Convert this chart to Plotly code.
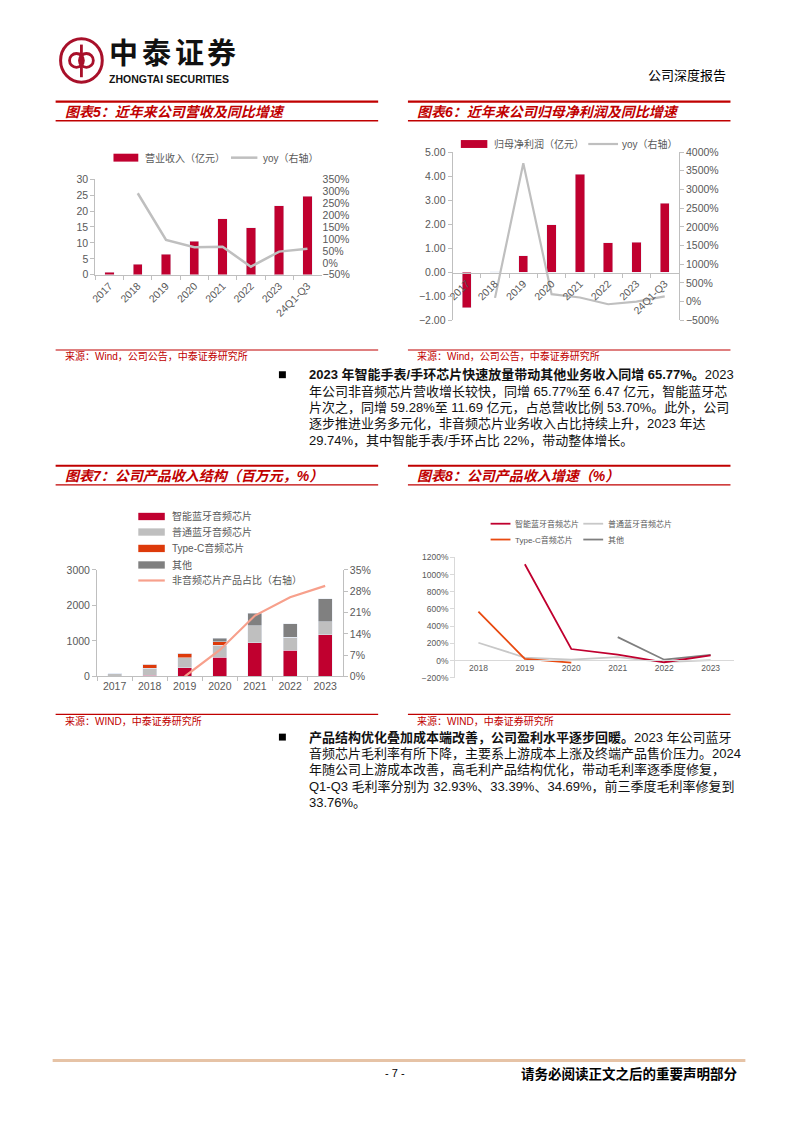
import plotly.graph_objects as go

# ---------------- data ----------------
years5 = ['2017', '2018', '2019', '2020', '2021', '2022', '2023', '24Q1-Q3']
revenue = [0.83, 3.3, 6.4, 10.55, 17.6, 14.8, 21.7, 24.7]
revenue_yoy = [None, 291, 96, 65, 67, -16, 47, 59]

profit = [-1.47, 0.02, 0.68, 1.98, 4.08, 1.23, 1.24, 2.88]
profit_yoy = [None, 100, 3700, 200, 110, -70, 1, 140]

years7 = ['2017', '2018', '2019', '2020', '2021', '2022', '2023']
smart_bt = [0, 28, 244, 544, 947, 741, 1169]
normal_bt = [75, 206, 281, 338, 479, 357, 370]
typec = [8, 104, 122, 94, 0, 0, 0]
others = [0, 0, 0, 93, 356, 390, 647]
nonaudio_share = [None, None, 0, 8.7, 20.0, 26.0, 29.74]

years8 = ['2018', '2019', '2020', '2021', '2022', '2023']
g_smart = [None, 1120, 134, 70, -20, 59.28]
g_normal = [207, 35, 10, 40, -18, 5]
g_typec = [570, 20, -25, None, None, None]
g_other = [None, None, None, 272, 10, 65.77]

logo_chars = ['中', '泰', '证', '券']

# ---------------- helpers ----------------
W, H = 794, 1123


def X(x):
    return x / W


def Y(y):
    return 1 - y / H


RED = '#C0002F'
TRED = '#C00000'
GTXT = '#595959'
AX = '#BFBFBF'
LOGO = '#A8102A'
CJK = 'Noto Sans CJK SC'
LAT = 'Liberation Sans, Noto Sans CJK SC'

shapes = []
annos = []


def hline(x0, x1, y, color, width):
    shapes.append(dict(type='line', xref='paper', yref='paper', x0=X(x0), x1=X(x1),
                       y0=Y(y), y1=Y(y), line=dict(color=color, width=width)))


def rect(x0, y0, x1, y1, color):
    shapes.append(dict(type='rect', xref='paper', yref='paper', x0=X(x0), x1=X(x1),
                       y0=Y(y1), y1=Y(y0), fillcolor=color, line=dict(width=0)))


def circle(x0, y0, x1, y1, color, width):
    shapes.append(dict(type='circle', xref='paper', yref='paper', x0=X(x0), x1=X(x1),
                       y0=Y(y1), y1=Y(y0), line=dict(color=color, width=width)))


def text(x, y, s, size, color='#000000', family=LAT, xanchor='left'):
    annos.append(dict(xref='paper', yref='paper', x=X(x), y=Y(y), text=s, showarrow=False,
                      xanchor=xanchor, yanchor='middle', font=dict(size=size, color=color, family=family)))


fig = go.Figure()

# ---------------- chart 5 ----------------
fig.add_trace(go.Bar(x=years5, y=revenue, marker_color=RED, width=0.33,
                     xaxis='x', yaxis='y', showlegend=False))
fig.add_trace(go.Scatter(x=years5, y=revenue_yoy, mode='lines', line=dict(color='#BFBFBF', width=2.5),
                         xaxis='x', yaxis='y2', showlegend=False))

# ---------------- chart 6 ----------------
fig.add_trace(go.Bar(x=years5, y=profit, marker_color=RED, width=0.33,
                     xaxis='x2', yaxis='y3', showlegend=False))
fig.add_trace(go.Scatter(x=years5, y=profit_yoy, mode='lines', line=dict(color='#BFBFBF', width=2.2),
                         xaxis='x2', yaxis='y4', showlegend=False))

# ---------------- chart 7 ----------------
for vals, col in [(smart_bt, RED), (normal_bt, '#BFBFBF'), (typec, '#DD3A0A'), (others, '#808080')]:
    fig.add_trace(go.Bar(x=years7, y=vals, marker_color=col, width=0.4,
                         xaxis='x3', yaxis='y5', showlegend=False))
fig.add_trace(go.Scatter(x=years7, y=nonaudio_share, mode='lines', line=dict(color='#F7A08C', width=2.2),
                         xaxis='x3', yaxis='y6', showlegend=False))

# ---------------- chart 8 ----------------
for vals, col in [(g_normal, '#C8C8C8'), (g_other, '#7F7F7F'), (g_typec, '#E84A10'), (g_smart, RED)]:
    fig.add_trace(go.Scatter(x=years8, y=vals, mode='lines', line=dict(color=col, width=1.8),
                             xaxis='x4', yaxis='y7', showlegend=False))

tf = dict(family=LAT, size=10.5, color=GTXT)
common_y = dict(showgrid=False, zeroline=False, showline=True, linecolor=AX, linewidth=1,
                ticks='outside', ticklen=4, tickcolor=AX, tickfont=tf)

layout = dict(
    width=W, height=H, margin=dict(l=0, r=0, t=0, b=0),
    paper_bgcolor='white', plot_bgcolor='white', barmode='stack', showlegend=False,
    # chart 5
    xaxis=dict(domain=[X(90), X(318)], anchor='y', type='category', range=[-0.5, 7.5],
               showline=True, linecolor=AX, ticks='outside', tickson='boundaries', ticklen=4,
               tickcolor=AX, tickangle=-45, tickfont=tf, showgrid=False),
    yaxis=dict(domain=[Y(271.7), Y(175)], anchor='x', range=[0, 30], dtick=5, **common_y),
    yaxis2=dict(overlaying='y', side='right', anchor='x', range=[-50, 350], dtick=50,
                ticksuffix='%', showgrid=False, zeroline=False, showline=False, tickfont=tf),
    # chart 6
    xaxis2=dict(domain=[X(450), X(678)], anchor='free', position=Y(269.4), type='category',
                range=[-0.5, 7.5], showline=True, linecolor=AX, ticks='outside', tickson='boundaries',
                ticklen=4, tickcolor=AX, tickangle=-45, tickfont=tf, showgrid=False),
    yaxis3=dict(domain=[Y(317.7), Y(147.7)], anchor='x2', range=[-2, 5], dtick=1, tickformat='.2f',
                **common_y),
    yaxis4=dict(overlaying='y3', side='right', anchor='x2', range=[-500, 4000], dtick=500,
                ticksuffix='%', **common_y),
    # chart 7
    xaxis3=dict(domain=[X(91.7), X(339.3)], anchor='y5', type='category', range=[-0.5, 6.5],
                showline=True, linecolor=AX, ticks='outside', tickson='boundaries', ticklen=4,
                tickcolor=AX, tickfont=tf, showgrid=False),
    yaxis5=dict(domain=[Y(677.7), Y(570)], anchor='x3', range=[0, 3000], dtick=1000, **common_y),
    yaxis6=dict(overlaying='y5', side='right', anchor='x3', range=[0, 35], dtick=7,
                ticksuffix='%', **common_y),
    # chart 8
    xaxis4=dict(domain=[X(452.6), X(733.4)], anchor='free', position=Y(661.3), type='category',
                range=[-0.5, 5.5], showline=True, linecolor='#D9D9D9', ticks='', showgrid=False,
                tickfont=dict(family=LAT, size=8.5, color=GTXT)),
    yaxis7=dict(domain=[Y(679), Y(557.3)], anchor='x4', range=[-200, 1200], dtick=200,
                ticksuffix='%', showgrid=False, zeroline=False, showline=True, linecolor='#D9D9D9',
                ticks='outside', ticklen=4, tickcolor='#D9D9D9',
                tickfont=dict(family=LAT, size=8.5, color=GTXT)),
)

# ---------------- header ----------------
circle(55, 33, 97, 77, LOGO, 3)
circle(64, 48, 78, 62, LOGO, 2.8)
circle(74, 48, 88, 62, LOGO, 2.8)
shapes.append(dict(type='line', xref='paper', yref='paper', x0=X(76), x1=X(76), y0=Y(39), y1=Y(72),
                   line=dict(color=LOGO, width=2.8)))
for i, ch in enumerate(logo_chars):
    text(102 + i * 33, 45.5, '<b>' + ch + '</b>', 29, '#111111', CJK)
text(102, 73.5, '<b>ZHONGTAI SECURITIES</b>', 10.5, '#111111', 'Liberation Sans')
text(728, 69, '公司深度报告', 13, '#000000', CJK, 'right')

# ---------------- chart titles / sources ----------------
for (x0, x1, ytop, ybot, ysrc, title, src) in [
    (50, 375, 96.7, 116, 347.7, '图表5：近年来公司营收及同比增速', '来源：Wind，公司公告，中泰证券研究所'),
    (405, 730, 96.7, 116, 347.7, '图表6：近年来公司归母净利润及同比增速', '来源：Wind，公司公告，中泰证券研究所'),
    (50, 375, 464.7, 484, 716, '图表7：公司产品收入结构（百万元，%）', '来源：WIND，中泰证券研究所'),
    (405, 730, 464.7, 484, 716, '图表8：公司产品收入增速（%）', '来源：WIND，中泰证券研究所'),
]:
    hline(x0, x1, ytop, TRED, 2.2)
    hline(x0, x1, ybot, TRED, 1.3)
    hline(x0, x1, ysrc, TRED, 1.2)
    text(x0 + 7, (ytop + ybot) / 2 + 0.5, '<b><i>' + title + '</i></b>', 14, TRED)
    text(x0 + 7, ysrc + 6.5, src, 10, TRED)

# ---------------- legends ----------------
# chart 5
rect(108.3, 149.3, 133.3, 157.3, RED)
text(138.3, 153.3, '营业收入（亿元）', 10, GTXT)
hline(226.7, 253.3, 153.3, '#BFBFBF', 2.5)
text(257.3, 153.3, 'yoy（右轴）', 10, GTXT)
# chart 6
rect(458.3, 135.5, 485, 143.5, RED)
text(489.3, 139.5, '归母净利润（亿元）', 10, GTXT)
hline(586.7, 616.7, 139.5, '#BFBFBF', 2.2)
text(618.3, 139.5, 'yoy（右轴）', 10, GTXT)
# chart 7
for yy, col, lab in [(516, RED, '智能蓝牙音频芯片'), (531.7, '#BFBFBF', '普通蓝牙音频芯片'),
                     (548.3, '#DD3A0A', 'Type-C音频芯片'), (565, '#808080', '其他')]:
    rect(133.3, yy - 3.7, 160, yy + 3.7, col)
    text(165, yy, lab, 10, GTXT)
hline(133.3, 160, 580.7, '#F7A08C', 2.2)
text(165, 580.7, '非音频芯片产品占比（右轴）', 10, GTXT)
# chart 8
for xl, yy, col, lab in [(488.3, 523.3, RED, '智能蓝牙音频芯片'), (581.7, 523.3, '#C8C8C8', '普通蓝牙音频芯片'),
                         (488.3, 539.3, '#E84A10', 'Type-C音频芯片'), (581.7, 539.3, '#7F7F7F', '其他')]:
    hline(xl, xl + 20, yy, col, 1.8)
    text(xl + 23, yy, lab, 8, GTXT)

# ---------------- body text ----------------
para1 = [
    '<b>2023 年智能手表/手环芯片快速放量带动其他业务收入同增 65.77%。</b>2023',
    '年公司非音频芯片营收增长较快，同增 65.77%至 6.47 亿元，智能蓝牙芯',
    '片次之，同增 59.28%至 11.69 亿元，占总营收比例 53.70%。此外，公司',
    '逐步推进业务多元化，非音频芯片业务收入占比持续上升，2023 年达',
    '29.74%，其中智能手表/手环占比 22%，带动整体增长。',
]
para2 = [
    '<b>产品结构优化叠加成本端改善，公司盈利水平逐步回暖。</b>2023 年公司蓝牙',
    '音频芯片毛利率有所下降，主要系上游成本上涨及终端产品售价压力。2024',
    '年随公司上游成本改善，高毛利产品结构优化，带动毛利率逐季度修复，',
    'Q1-Q3 毛利率分别为 32.93%、33.39%、34.69%，前三季度毛利率修复到',
    '33.76%。',
]
for y0, para in [(372.7, para1), (739, para2)]:
    rect(275, y0 - 3.5, 282, y0 + 3.5, '#000000')
    for i, line in enumerate(para):
        text(303, y0 + i * 16.6, line, 13, '#111111')

# ---------------- footer ----------------
hline(47, 745, 1066, '#E6C3A6', 3)
text(392, 1079, '- 7 -', 11, '#000000', LAT, 'center')
text(740, 1079, '<b>请务必阅读正文之后的重要声明部分</b>', 13.5, '#000000', CJK, 'right')

layout['shapes'] = shapes
layout['annotations'] = annos
fig.update_layout(**layout)

fig.write_html('out.html',
               post_script="document.body.style.margin='0';document.body.style.padding='0';")
